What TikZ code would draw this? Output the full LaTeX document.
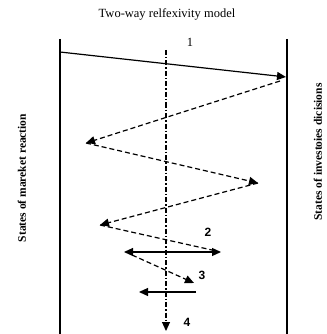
\documentclass[tikz,border=0pt]{standalone}
\usepackage{fontspec}
\setmainfont{Liberation Serif}
\newfontfamily\numfont{Liberation Sans}
\usetikzlibrary{arrows.meta}
\begin{document}
\begin{tikzpicture}[x=1pt,y=-1pt,
  wall/.style={line width=1.3pt},
  solidarr/.style={line width=1.2pt,-{Triangle[length=9pt,width=8pt]}},
  dasharr/.style={line width=1.2pt,dash pattern=on 5pt off 3pt,-{Triangle[length=9pt,width=8pt]}},
  dashline/.style={line width=1.2pt,dash pattern=on 5pt off 3pt},
  axisline/.style={line width=1.1pt,dash pattern=on 5pt off 2pt on 1.5pt off 2pt,-{Triangle[length=9pt,width=8pt]}},
  lbl/.style={font=\fontsize{12.5}{14}\selectfont},
  numlbl/.style={font=\numfont\bfseries\fontsize{12}{14}\selectfont},
  side/.style={font=\bfseries\fontsize{11.5}{13}\selectfont}]
\useasboundingbox (0,0) rectangle (326,334);
% walls
\coordinate (LT) at (60,39); \coordinate (LB) at (60,334);
\coordinate (RT) at (287,39); \coordinate (RB) at (287,334);
\draw[wall] (LT) -- (LB);
\draw[wall] (RT) -- (RB);
% title and labels
\node[lbl] (title) at (167,14) {Two-way relfexivity model};
\node[lbl] (n1) at (190,42) {1};
\node[numlbl] (n2) at (208,232) {2};
\node[numlbl] (n3) at (202,275) {3};
\node[numlbl] (n4) at (187,322) {4};
\node[side,rotate=90] (sl) at (22,178) {States of mareket reaction};
\node[side,rotate=90] (sr) at (318,152) {States of investoies dicisions};
% axis
\coordinate (A0) at (166,50); \coordinate (A1) at (166,331);
\draw[axisline] (A0) -- (A1);
% points
\coordinate (P0) at (60,52);
\coordinate (P1) at (286,77);
\coordinate (P1s) at (280,81);
\coordinate (P2) at (86,143);
\coordinate (P3) at (258,183);
\coordinate (P4) at (100,225);
\coordinate (P5) at (212,250);
\coordinate (D2L) at (124,252); \coordinate (D2R) at (221,252);
\coordinate (P6s) at (132,255);
\coordinate (P6) at (194,283);
\coordinate (L3R) at (196,292); \coordinate (L3L) at (139,292);
\draw[solidarr] (P0) -- (P1);
\draw[dasharr] (P1s) -- (P2);
\draw[dasharr] (P2) -- (P3);
\draw[dasharr] (P3) -- (P4);
\draw[dashline] (P4) -- (P5);
\draw[line width=1.2pt,{Triangle[length=9pt,width=8pt]}-{Triangle[length=9pt,width=8pt]}] (D2L) -- (D2R);
\draw[dasharr] (P6s) -- (P6);
\draw[solidarr] (L3R) -- (L3L);
\end{tikzpicture}
\end{document}
